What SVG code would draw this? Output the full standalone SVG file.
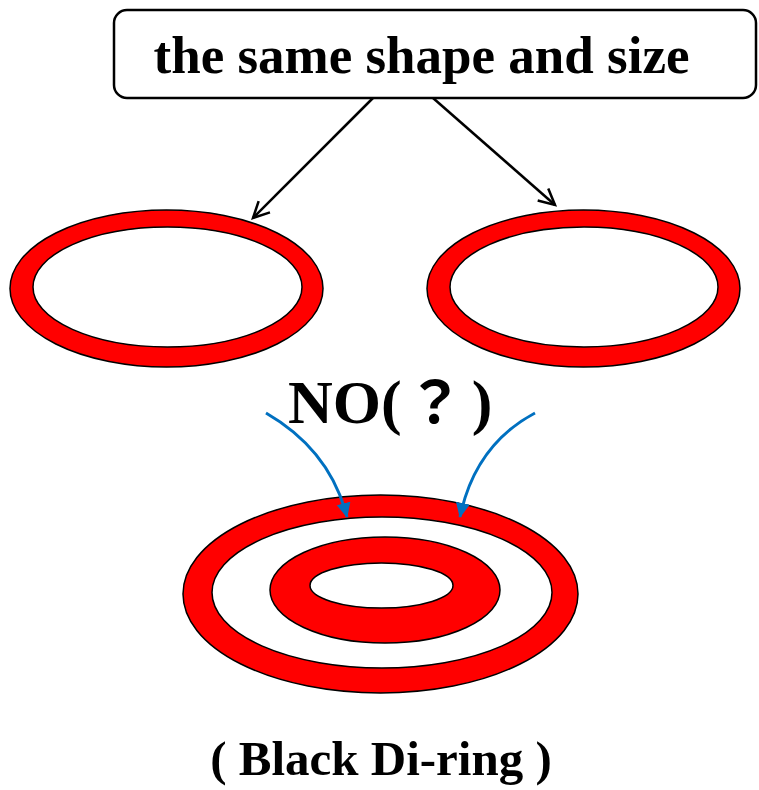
<svg xmlns="http://www.w3.org/2000/svg" width="759" height="790" viewBox="0 0 759 790">
<style>
.ring{fill:#ff0000;stroke:#000;stroke-width:1.5}
.hole{fill:#fff;stroke:#000;stroke-width:1.5}
.lbl{font-family:"Liberation Serif","Times New Roman",serif;font-weight:bold;fill:#000}
.blk{fill:none;stroke:#000;stroke-width:2.5}
.blu{fill:none;stroke:#0070C0;stroke-width:3}
</style>
<defs>
<marker id="openArrow" markerWidth="24" markerHeight="24" refX="20" refY="12" orient="auto" markerUnits="userSpaceOnUse">
<path d="M4,4 L20,12 L4,20" fill="none" stroke="#000" stroke-width="2.5"/>
</marker>
<marker id="blueArrow" markerWidth="16" markerHeight="16" refX="14" refY="8" orient="auto" markerUnits="userSpaceOnUse">
<path d="M0,1 L15,8 L0,15 Z" fill="#0070C0"/>
</marker>
</defs>
<rect width="759" height="790" fill="#fff"/>
<g id="box">
<rect x="114" y="10" width="642" height="88" rx="13" ry="13" fill="#fff" stroke="#000" stroke-width="2.5"/>
<text class="lbl" x="421.5" y="73" font-size="53" text-anchor="middle">the same shape and size</text>
</g>
<g id="ring-left">
<ellipse class="ring" cx="166.5" cy="288.5" rx="156.5" ry="78.5"/>
<ellipse class="hole" cx="167.5" cy="287" rx="134.5" ry="60"/>
</g>
<g id="ring-right">
<ellipse class="ring" cx="583.5" cy="288.5" rx="156.5" ry="78.5"/>
<ellipse class="hole" cx="584" cy="287" rx="134" ry="60"/>
</g>
<g id="no-label">
<text class="lbl" x="288" y="423" font-size="62">NO(<tspan dx="4" font-family="'Noto Sans CJK TC','Noto Sans CJK JP',sans-serif" font-size="58">？</tspan><tspan dx="8">)</tspan></text>
</g>
<g id="double-ring">
<ellipse class="ring" cx="380.5" cy="594" rx="197.5" ry="99"/>
<ellipse class="hole" cx="382" cy="592.5" rx="170" ry="75.5"/>
<ellipse class="ring" cx="385" cy="590" rx="115" ry="53"/>
<ellipse class="hole" cx="381.5" cy="585.5" rx="71.5" ry="22.5"/>
</g>
<g id="caption">
<text class="lbl" x="381" y="775" font-size="49" text-anchor="middle">( Black Di-ring )</text>
</g>
<g id="connectors">
<line class="blk" x1="373" y1="98" x2="253" y2="218" marker-end="url(#openArrow)"/>
<line class="blk" x1="433" y1="98" x2="555" y2="205" marker-end="url(#openArrow)"/>
<path class="blu" d="M266,413 Q330,450 347,517" marker-end="url(#blueArrow)"/>
<path class="blu" d="M535,413 Q475,445 460,517" marker-end="url(#blueArrow)"/>
</g>
</svg>
